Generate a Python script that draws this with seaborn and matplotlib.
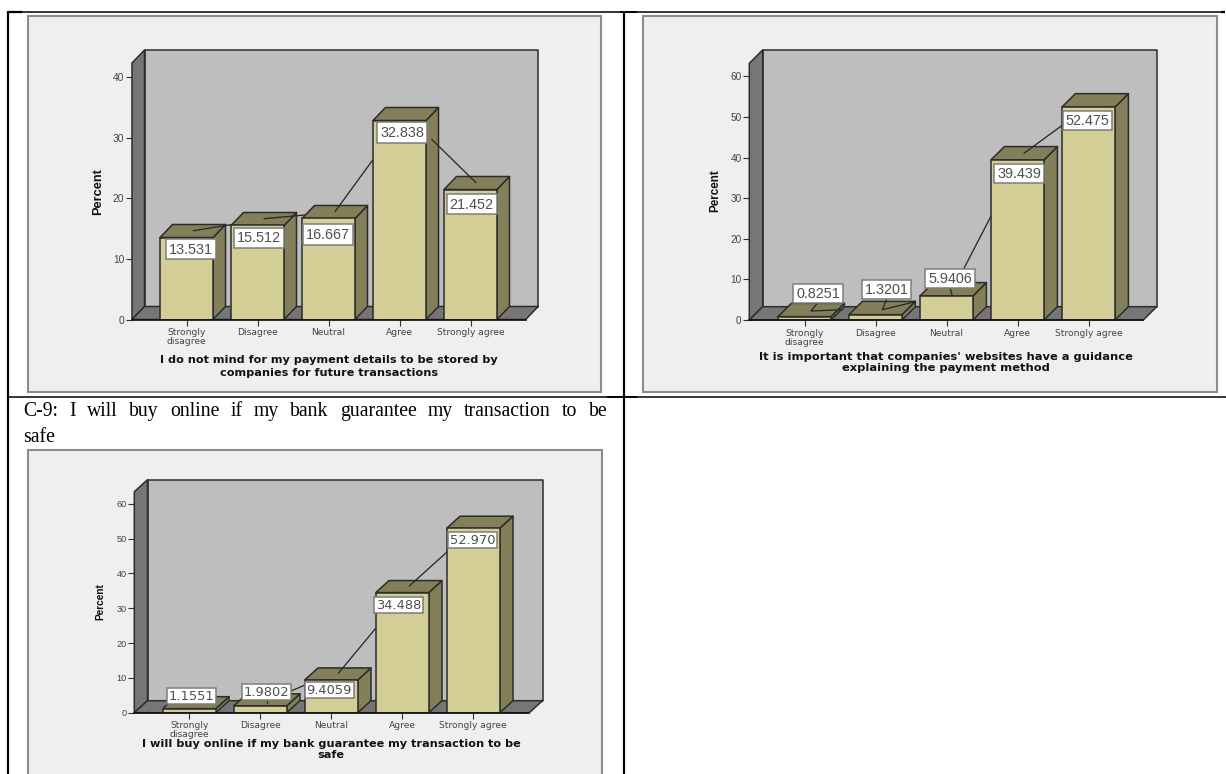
import matplotlib
matplotlib.use("Agg")
import matplotlib.pyplot as plt
import seaborn as sns
from matplotlib.lines import Line2D
from matplotlib.patches import Polygon, Rectangle
from matplotlib.transforms import IdentityTransform

# Survey responses, percent of respondents
categories = ["Strongly\ndisagree", "Disagree", "Neutral", "Agree", "Strongly agree"]
stored_details = [13.531, 15.512, 16.667, 32.838, 21.452]
website_guidance = [0.8251, 1.3201, 5.9406, 39.439, 52.475]
bank_guarantee = [1.1551, 1.9802, 9.4059, 34.488, 52.970]
value_labels_stored = ["13.531", "15.512", "16.667", "32.838", "21.452"]
value_labels_guidance = ["0.8251", "1.3201", "5.9406", "39.439", "52.475"]
value_labels_guarantee = ["1.1551", "1.9802", "9.4059", "34.488", "52.970"]
ticks_stored = [0, 10, 20, 30, 40]
ticks_other = [0, 10, 20, 30, 40, 50, 60]
title_stored = "I do not mind for my payment details to be stored by\ncompanies for future transactions"
title_guidance = "It is important that companies' websites have a guidance\nexplaining the payment method"
title_guarantee = "I will buy online if my bank guarantee my transaction to be\nsafe"
caption_words = "C-9: I will buy online if my bank guarantee my transaction to be".split()

W, H = 1226, 774
FRONT = "#d3ce96"
SHADE = "#827f59"
WALL = "#bebebe"
DARK = "#767676"
PANEL = "#efefef"
EDGE = "#2c2c2c"

sns.set_theme(style="white")
plt.rcParams["font.family"] = ["DejaVu Sans"]

fig = plt.figure(figsize=(W / 100, H / 100), dpi=100, facecolor="white")
ID = IdentityTransform()


def fx(x):
    return x / W


def fy(y):
    return 1 - y / H


def draw_panel(values, texts, ticks, title, g):
    left, right, top, y0 = g["left"], g["right"], g["top"], g["y0"]
    fig.add_artist(Rectangle((fx(g["frame"][0]), fy(g["frame"][3])),
                             (g["frame"][2] - g["frame"][0]) / W,
                             (g["frame"][3] - g["frame"][1]) / H,
                             transform=fig.transFigure, fc=PANEL, ec="#8c8c8c", lw=1.5, zorder=-5))
    ax = fig.add_axes([fx(left), fy(y0), (right - left) / W, (y0 - top) / H], zorder=1)
    ax.patch.set_visible(False)
    sns.barplot(x=categories, y=values, color=FRONT, saturation=1, width=53 / 71,
                edgecolor=EDGE, linewidth=1.1, ax=ax, zorder=3)
    step = 71
    span = right - left
    first = (g["c0"] - left) / step
    ax.set_xlim(-first, -first + span / step)
    ax.set_ylim(0, (y0 - top) / g["unit"])
    ax.set_yticks(ticks)
    ax.set_xticks(range(len(categories)))
    ax.set_xticklabels(categories, fontsize=g["xfs"], color="#444444", linespacing=1.0, va="top")
    ax.set_yticklabels([str(t) for t in ticks], fontsize=g["yfs"], color="#444444",
                       family="Liberation Sans")
    ax.tick_params(axis="both", length=4, width=0.8, color="#333333", pad=1.6, left=True, bottom=True)
    ax.tick_params(axis="x", pad=2.2)
    ax.set_xlabel("")
    ax.set_ylabel("")
    for side in ("top", "right", "left"):
        ax.spines[side].set_visible(False)
    ax.spines["bottom"].set_color("#111111")
    ax.spines["bottom"].set_linewidth(1.2)
    ax.spines["bottom"].set_zorder(6)

    dx, dy = g["depth"]

    def poly(points, face, z):
        ax.add_patch(Polygon(points, closed=True, transform=ID, fc=face, ec=EDGE, lw=1.1,
                             joinstyle="round", zorder=z, clip_on=False))

    # Back wall, side wall and floor of the box, offset from the axes frame
    (ax0, ay0), (ax1, ay1) = ax.transAxes.transform([(0, 0), (1, 1)])
    poly([(ax0 + dx, ay0 + dy), (ax1 + dx, ay0 + dy), (ax1 + dx, ay1 + dy), (ax0 + dx, ay1 + dy)], WALL, 0.5)
    poly([(ax0, ay0), (ax0 + dx, ay0 + dy), (ax0 + dx, ay1 + dy), (ax0, ay1)], DARK, 0.6)
    poly([(ax0, ay0), (ax1, ay0), (ax1 + dx, ay0 + dy), (ax0 + dx, ay0 + dy)], DARK, 0.7)

    # Extruded faces for every bar that seaborn drew
    for bar in ax.patches:
        if not isinstance(bar, Rectangle) or bar.get_width() > 1:
            continue
        (x0, yb), (x1, yt) = ax.transData.transform(
            [(bar.get_x(), 0), (bar.get_x() + bar.get_width(), bar.get_height())])
        poly([(x1, yb), (x1 + dx, yb + dy), (x1 + dx, yt + dy), (x1, yt)], SHADE, 2)
        poly([(x0, yt), (x1, yt), (x1 + dx, yt + dy), (x0 + dx, yt + dy)], SHADE, 2)

    # Callout boxes and leader lines, placed relative to each bar's top centre
    for i, (val, txt) in enumerate(zip(values, texts)):
        bx, by = ax.transData.transform((i, val))
        for path in g["leaders"].get(i, []):
            ax.add_line(Line2D([bx + p[0] for p in path], [by + p[1] for p in path], transform=ID,
                               color="#2a2a2a", lw=0.95, zorder=7, clip_on=False))
        ox, oy = g["labels"][i]
        bw, bh = g["box"]
        ax.add_patch(Rectangle((bx + ox - bw / 2, by + oy - bh / 2), bw, bh, transform=ID, fc="white",
                               ec="#7d7d7d", lw=1.1, zorder=8, clip_on=False))
        ax.text(bx + ox, by + oy - 0.5, txt, transform=ID, ha="center", va="center",
                fontsize=g["vfs"], family=g["vfont"], color="#505050", zorder=9, clip_on=False)

    fig.text(fx(g["title_x"]), fy(g["title_y"]), title, ha="center", va="center", fontsize=g["tfs"],
             fontweight="bold", color="#111111", linespacing=g["tls"], family="DejaVu Sans")
    fig.text(fx(g["ylabel"][0]), fy(g["ylabel"][1]), "Percent", rotation=90, ha="center", va="center",
             fontsize=g["pfs"], fontweight="bold", color="#111111", family="Liberation Sans")
    return ax


layout_stored = dict(
    frame=(27.5, 16, 601, 392), left=132, right=525.7, top=63, y0=319.5, unit=6.06, c0=186.5,
    depth=(12.5, 13), box=(50, 20.5), vfs=10.4, vfont="Liberation Sans", xfs=6.6, yfs=7.4,
    tfs=8.1, tls=1.28, pfs=9.2, title_x=328.8, title_y=366.5, ylabel=(98, 191.5),
    labels=[(4.2, -11.5), (1.8, -12.5), (-0.2, -15.8), (2.8, -12.2), (1.2, -14.5)],
    leaders={0: [[(6.8, 6.8), (45.5, 13)]],
             1: [[(6.5, 6.8), (47.5, 10.5)]],
             2: [[(6.5, 6.8), (44.2, 58.5)]],
             4: [[(5.5, 6.8), (-38.8, 50.2)]]},
)
layout_guidance = dict(
    frame=(642.7, 16, 1217.3, 392.3), left=749.3, right=1143.3, top=63.3, y0=320, unit=4.06, c0=804.5,
    depth=(13.4, 13.3), box=(49.5, 18.7), vfs=10.4, vfont="Liberation Sans", xfs=6.6, yfs=7.2,
    tfs=8.25, tls=1.18, pfs=8.4, title_x=946, title_y=362.5, ylabel=(715, 191),
    labels=[(13.5, 23.35), (11.2, 25.4), (3.5, 17.6), (1.5, -13.4), (-0.8, -13.3)],
    leaders={0: [[(12.8, 13.35), (6.5, 5.65), (38.2, 6.95)]],
             1: [[(11.2, 15.6), (6.8, 4.9), (39.5, 12.9)]],
             2: [[(3.5, 8.2), (5.5, 0.9)], [(17.5, 27.6), (44.2, 79.2)]],
             3: [[(6.5, 6.6), (44.2, 34.2)]]},
)
layout_guarantee = dict(
    frame=(27.5, 450, 601.7, 800), left=134.3, right=529.3, top=491.7, y0=712.7, unit=3.483, c0=189.3,
    depth=(13.2, 12), box=(49.5, 15.7), vfs=9.4, vfont="DejaVu Sans", xfs=6.6, yfs=6.6,
    tfs=8.1, tls=1.03, pfs=7.3, title_x=331.3, title_y=749.5, ylabel=(100, 601.7),
    labels=[(2.4, 12.7), (6.2, 13.5), (-2, -10.1), (-4, -12.7), (-0.6, -12.1)],
    leaders={1: [[(30.7, 14.8), (44.7, 20.8)], [(6.4, 5.1), (6.4, 2.8)]],
             2: [[(7, 6.6), (44.4, 51.6)]],
             3: [[(7, 6.6), (44.4, 40.3)]]},
)

draw_panel(stored_details, value_labels_stored, ticks_stored, title_stored, layout_stored)
draw_panel(website_guidance, value_labels_guidance, ticks_other, title_guidance, layout_guidance)
draw_panel(bank_guarantee, value_labels_guarantee, ticks_other, title_guarantee, layout_guarantee)


# Table rules around the cells
def rule(x0, y0, x1, y1, lw):
    fig.add_artist(Line2D([fx(x0), fx(x1)], [fy(y0), fy(y1)], transform=fig.transFigure,
                          color="black", lw=lw, solid_capstyle="butt", zorder=10))


rule(8, 11, 8, 774, 1.6)
rule(623.5, 11, 623.5, 774, 1.6)
rule(8, 11.7, 1224, 11.7, 1.1)
rule(8, 397, 1226, 397, 1.1)
rule(8, 12, 22, 12, 1.6)
rule(607, 397, 637, 397, 1.3)
rule(620, 12, 637, 12, 1.3)
rule(1221, 12, 1225, 12, 1.6)

# Justified caption above the third chart
renderer = fig.canvas.get_renderer()
serif = dict(family="Liberation Serif", fontsize=14.2, color="black", va="baseline")
word_artists = [fig.text(0, fy(416), w, **serif) for w in caption_words]
widths = [t.get_window_extent(renderer).width for t in word_artists]
gap = (607.5 - 23 - sum(widths)) / (len(widths) - 1)
cursor = 23
for artist, width in zip(word_artists, widths):
    artist.set_x(fx(cursor))
    cursor += width + gap
fig.text(fx(23), fy(441.5), "safe", **serif)

fig.savefig("out.png", dpi=100, facecolor="white")
